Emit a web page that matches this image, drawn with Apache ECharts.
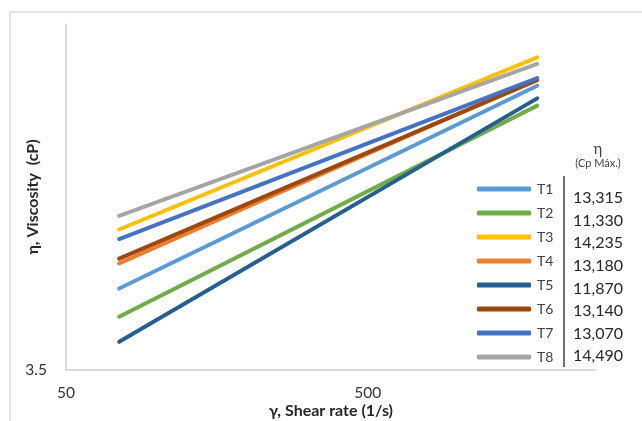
<!DOCTYPE html>
<html>
<head>
<meta charset="utf-8">
<script src="https://cdn.jsdelivr.net/npm/echarts@6/dist/echarts.min.js"></script>
<style>html,body{margin:0;padding:0;background:#fff}#c{width:642px;height:421px}</style>
</head>
<body>
<div id="c"></div>
<script>
// ---- data ----
const seriesNames = ['T1', 'T2', 'T3', 'T4', 'T5', 'T6', 'T7', 'T8'];
const shearRate = [75, 1820];                 // 1/s
const viscStart = [4.93, 4.38, 6.32, 5.48, 3.94, 5.59, 6.07, 6.69];   // cP at 75 1/s
const viscEnd   = [11.57, 10.64, 13.04, 11.90, 10.97, 11.85, 11.95, 12.68]; // cP at 1820 1/s
const maxViscosity = ['13,315', '11,330', '14,235', '13,180', '11,870', '13,140', '13,070', '14,490'];
const xTickBase = 50;     // tick labels 50, 500
const yTickBase = 3.5;    // tick label 3.5
const xMaxValue = 2850;
const yMaxValue = 15;
const colors = ['#5B9BD5', '#70AD47', '#FFC000', '#ED7D31', '#255E91', '#9E480E', '#4472C4', '#A5A5A5'];

const FONT = 'Lato, "Open Sans", sans-serif';
const lx = v => Math.log10(v / xTickBase);
const ly = v => Math.log10(v / yTickBase);

const series = seriesNames.map((n, i) => ({
  name: n,
  type: 'line',
  symbol: 'none',
  data: [[lx(shearRate[0]), ly(viscStart[i])], [lx(shearRate[1]), ly(viscEnd[i])]],
  lineStyle: { width: 4, color: colors[i], cap: 'round' },
  itemStyle: { color: colors[i] },
  silent: true
}));

const graphics = [
  { type: 'rect', shape: { x: 10, y: 12, width: 700, height: 500 },
    style: { fill: 'none', stroke: '#D9D9D9', lineWidth: 1.5 }, silent: true },
  { type: 'line', shape: { x1: 564, y1: 176, x2: 564, y2: 367 },
    style: { stroke: '#404040', lineWidth: 1.5 }, silent: true, z: 10 },
  { type: 'text', style: { text: 'η', x: 598, y: 149, font: '15px ' + FONT, fill: '#404040', align: 'center', verticalAlign: 'middle', textAlign: 'center', textVerticalAlign: 'middle' }, z: 10 },
  { type: 'text', style: { text: '(Cp Máx.)', x: 598, y: 163, font: '11px ' + FONT, fill: '#404040', align: 'center', verticalAlign: 'middle', textAlign: 'center', textVerticalAlign: 'middle' }, z: 10 }
];
maxViscosity.forEach((t, i) => {
  graphics.push({ type: 'text', style: { text: t, x: 573, y: 198 + i * 22.6, font: '16px ' + FONT, fill: '#262626', align: 'left', verticalAlign: 'middle', textAlign: 'left', textVerticalAlign: 'middle' }, z: 10 });
});

const chart = echarts.init(document.getElementById('c'), null, { renderer: 'canvas' });
chart.setOption({
  animation: false,
  backgroundColor: '#fff',
  color: colors,
  grid: { left: 66, top: 24, right: 46, bottom: 51, containLabel: false, outerBoundsMode: 'none' },
  xAxis: {
    type: 'value', min: 0, max: lx(xMaxValue), interval: 1,
    name: 'γ, Shear rate (1/s)', nameLocation: 'middle', nameGap: 33, nameMoveOverlap: false,
    nameTextStyle: { fontFamily: FONT, fontSize: 16, fontWeight: 'bold', color: '#262626' },
    axisLine: { show: true, lineStyle: { color: '#D0D0D0', width: 1.5 } },
    axisTick: { show: false },
    splitLine: { show: false },
    axisLabel: { showMaxLabel: false, margin: 15, fontFamily: FONT, fontSize: 15.5, color: '#333',
      formatter: v => String(Math.round(xTickBase * Math.pow(10, v))) }
  },
  yAxis: {
    type: 'value', min: 0, max: ly(yMaxValue), interval: 1,
    name: 'η, Viscosity  (cP)', nameLocation: 'middle', nameGap: 25, nameRotate: 90, nameMoveOverlap: false,
    nameTextStyle: { fontFamily: FONT, fontSize: 16, fontWeight: 'bold', color: '#262626' },
    axisLine: { show: true, lineStyle: { color: '#D0D0D0', width: 1.5 } },
    axisTick: { show: false },
    splitLine: { show: false },
    axisLabel: { showMaxLabel: false, margin: 19, fontFamily: FONT, fontSize: 15.5, color: '#333',
      verticalAlign: 'middle', padding: [5, 0, 0, 0],
      formatter: v => (v === 0 ? String(yTickBase) : '') }
  },
  legend: {
    orient: 'vertical', left: 472, top: 176,
    itemWidth: 54, itemHeight: 5, itemGap: 8,
    icon: 'roundRect',
    data: seriesNames,
    selectedMode: false,
    textStyle: { fontFamily: FONT, fontSize: 14, color: '#404040', lineHeight: 16, padding: [0, 0, 0, 1] }
  },
  graphic: graphics,
  series: series
});
</script>
</body>
</html>
